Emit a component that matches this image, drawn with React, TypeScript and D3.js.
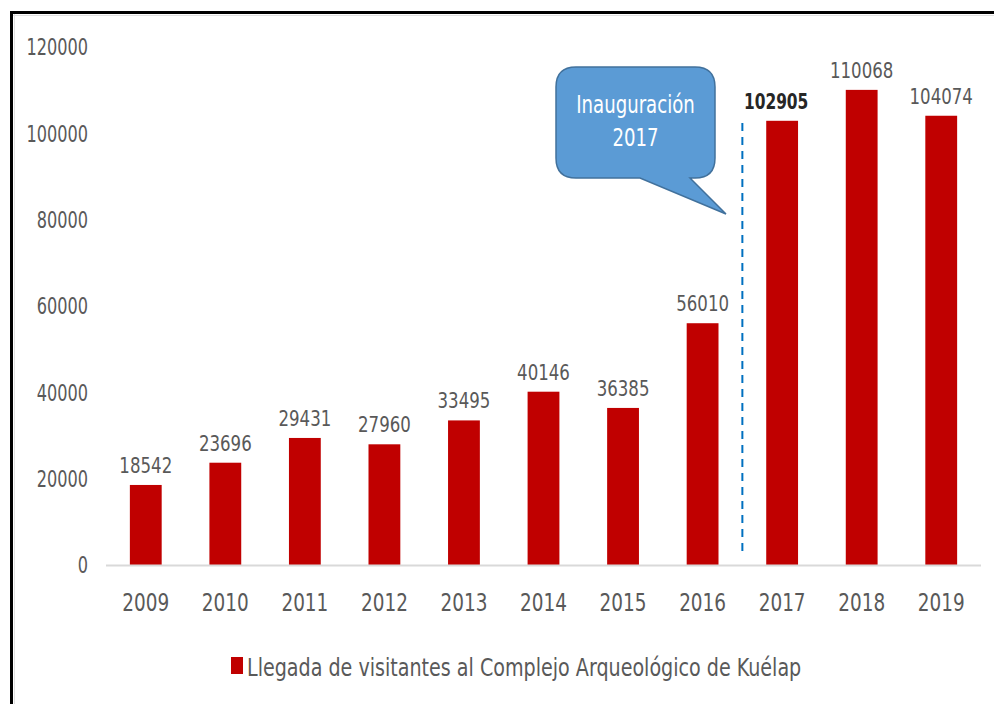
import React from 'react';
import * as d3 from 'd3';

const years = ['2009', '2010', '2011', '2012', '2013', '2014', '2015', '2016', '2017', '2018', '2019'];
const visitors = [18542, 23696, 29431, 27960, 33495, 40146, 36385, 56010, 102905, 110068, 104074];
const yTicks = [0, 20000, 40000, 60000, 80000, 100000, 120000];
const legendLabel = 'Llegada de visitantes al Complejo Arqueológico de Kuélap';
const calloutLines = ['Inauguración', '2017'];
const markedYear = '2017';

const FONT = '"DejaVu Sans Condensed", "Liberation Sans Narrow", sans-serif';
const GRAY = '#595959';
const RED = '#C00000';

// text squeezed horizontally to mimic a narrow font
const Txt = ({ x, y, anchor = 'start', size, sx, fill = GRAY, bold = false, dy, children }: any) => (
  <g transform={`translate(${x},${y}) scale(${sx},1)`}>
    <text textAnchor={anchor} dy={dy} fontFamily={FONT} fontSize={size} fontWeight={bold ? 'bold' : 'normal'} fill={fill}>
      {children}
    </text>
  </g>
);

const App = () => {
  const width = 994;
  const height = 704;
  const left = 106;
  const right = 981;
  const top = 47;
  const bottom = 565;

  const x = d3.scaleBand().domain(years).range([left, right]).paddingInner(0.6).paddingOuter(0.3);
  const y = d3.scaleLinear().domain([0, 120000]).range([bottom, top]);

  // dashed marker between 2016 and 2017
  const idx = years.indexOf(markedYear);
  const markX = (x(years[idx - 1])! + x.bandwidth() + x(markedYear)!) / 2;

  // callout shape
  const cx0 = 556, cy0 = 67, cx1 = 715, cy1 = 178, r = 20;
  const tip = [726, 214];
  const callout = [
    `M${cx0 + r},${cy0}`,
    `H${cx1 - r}`,
    `Q${cx1},${cy0} ${cx1},${cy0 + r}`,
    `V${cy1 - r}`,
    `Q${cx1},${cy1} ${cx1 - r},${cy1}`,
    `H690`,
    `L${tip[0]},${tip[1]}`,
    `L640,${cy1}`,
    `H${cx0 + r}`,
    `Q${cx0},${cy1} ${cx0},${cy1 - r}`,
    `V${cy0 + r}`,
    `Q${cx0},${cy0} ${cx0 + r},${cy0}`,
    'Z',
  ].join(' ');

  return (
    <svg width={width} height={height} style={{ position: 'absolute', left: 0, top: 0, background: '#fff' }}>
      {/* frame */}
      <line x1={10} y1={12.5} x2={width} y2={12.5} stroke="#000" strokeWidth={3} />
      <line x1={11.5} y1={11} x2={11.5} y2={height} stroke="#000" strokeWidth={3} />
      <line x1={13} y1={15.5} x2={width} y2={15.5} stroke="#E0E0E0" strokeWidth={1} />
      <line x1={14.5} y1={14} x2={14.5} y2={height} stroke="#E0E0E0" strokeWidth={1} />

      {/* y axis labels */}
      {yTicks.map((t) => (
        <Txt key={t} x={88} y={y(t)} dy="0.36em" anchor="end" size={23} sx={0.78}>
          {t}
        </Txt>
      ))}

      {/* bars */}
      {years.map((yr, i) => (
        <rect key={yr} x={x(yr)} y={y(visitors[i])} width={x.bandwidth()} height={bottom - y(visitors[i])} fill={RED} />
      ))}

      {/* x axis */}
      <line x1={left} y1={bottom + 0.5} x2={right} y2={bottom + 0.5} stroke="#D9D9D9" strokeWidth={2} />
      {years.map((yr) => (
        <Txt key={yr} x={x(yr)! + x.bandwidth() / 2} y={611} anchor="middle" size={25} sx={0.82}>
          {yr}
        </Txt>
      ))}

      {/* value labels; the bold 2017 label sits a bit left in the original */}
      {years.map((yr, i) => (
        <Txt
          key={yr}
          x={x(yr)! + x.bandwidth() / 2 - (yr === markedYear ? 6 : 0)}
          y={y(visitors[i]) - 12}
          anchor="middle"
          size={22}
          sx={yr === markedYear ? 0.78 : 0.84}
          bold={yr === markedYear}
          fill={yr === markedYear ? '#262626' : GRAY}
        >
          {visitors[i]}
        </Txt>
      ))}

      {/* dashed marker */}
      <line x1={markX} y1={123} x2={markX} y2={557} stroke="#0070C0" strokeWidth={2} strokeDasharray="8,6" />

      {/* callout */}
      <path d={callout} fill="#5B9BD5" stroke="#41719C" strokeWidth={1.5} />
      {calloutLines.map((l, i) => (
        <Txt key={l} x={(cx0 + cx1) / 2} y={113 + i * 33} anchor="middle" size={24} sx={0.84} fill="#fff">
          {l}
        </Txt>
      ))}

      {/* legend */}
      <rect x={231} y={657} width={12} height={17} fill={RED} />
      <Txt x={247} y={676} size={25} sx={0.85}>
        {legendLabel}
      </Txt>
    </svg>
  );
};

export default App;
